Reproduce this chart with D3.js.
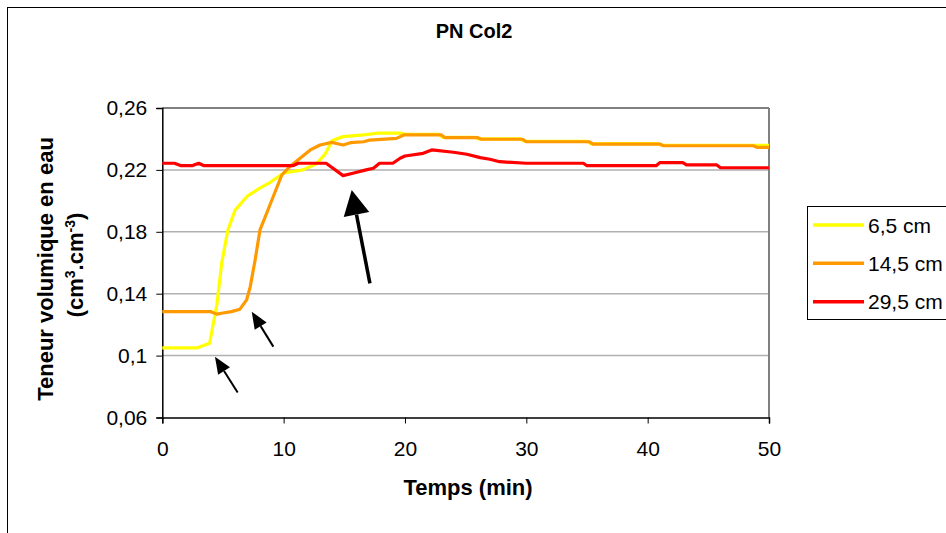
<!DOCTYPE html>
<html>
<head>
<meta charset="utf-8">
<script src="https://cdn.jsdelivr.net/npm/d3@7"></script>
<style>
  html, body { margin: 0; padding: 0; background: #fff; }
  svg { display: block; font-family: "Liberation Sans", Arial, sans-serif; }
</style>
</head>
<body>
<svg id="chart" width="946" height="533"></svg>
<script>
// ---------- data ----------
const title = "PN Col2";
const xTitle = "Temps (min)";
const yTitleLine1 = "Teneur volumique en eau";
const seriesNames = ["6,5 cm", "14,5 cm", "29,5 cm"];
const seriesColors = ["#FFFF00", "#FF9900", "#FF0000"];

const xTicks = [0, 10, 20, 30, 40, 50];
const yTicks = [0.06, 0.10, 0.14, 0.18, 0.22, 0.26];
const yTickLabels = ["0,06", "0,1", "0,14", "0,18", "0,22", "0,26"];

const t1 = [0, 2.9, 3.9, 4.5, 4.9, 5.4, 6.0, 7.0, 8.0, 8.9, 10.0, 11.6, 12.7, 13.4, 14.0, 14.9, 16.6, 17.7, 19.7, 20.0, 22.8, 23.1, 25.8, 26.1, 29.5, 29.8, 35.0, 35.3, 40.8, 41.1, 50];
const v1 = [0.105, 0.105, 0.108, 0.133, 0.160, 0.181, 0.194, 0.203, 0.208, 0.212, 0.218, 0.220, 0.224, 0.230, 0.239, 0.2415, 0.2426, 0.2437, 0.2437, 0.2430, 0.2430, 0.2410, 0.2410, 0.2400, 0.2400, 0.2385, 0.2385, 0.2370, 0.2370, 0.2360, 0.2358];

const t2 = [0, 4.0, 4.5, 5.0, 5.7, 6.4, 6.95, 7.25, 7.65, 8.05, 8.6, 9.3, 9.85, 10.5, 11.35, 12.2, 13.0, 13.95, 14.9, 15.5, 16.6, 17.1, 19.3, 19.9, 23.0, 23.3, 26.0, 26.3, 29.7, 30.0, 35.2, 35.5, 41.0, 41.3, 48.7, 49.0, 50];
const v2 = [0.1284, 0.1284, 0.1268, 0.1275, 0.1284, 0.1300, 0.1360, 0.1446, 0.1618, 0.1812, 0.1920, 0.2059, 0.2167, 0.2221, 0.2275, 0.2329, 0.2361, 0.2378, 0.2361, 0.2376, 0.2382, 0.2393, 0.2404, 0.2426, 0.2426, 0.2408, 0.2408, 0.2398, 0.2398, 0.2382, 0.2382, 0.2367, 0.2367, 0.2356, 0.2356, 0.2346, 0.2346];

const t3 = [0, 1.0, 1.5, 2.5, 3.0, 3.4, 10.8, 11.2, 13.5, 14.9, 15.7, 16.8, 17.4, 17.9, 19.0, 19.6, 20.0, 21.5, 22.2, 24.0, 25.1, 26.2, 27.0, 27.8, 30.0, 34.7, 35.0, 40.7, 41.0, 42.9, 43.2, 45.7, 46.0, 50];
const v3 = [0.2243, 0.2243, 0.2228, 0.2228, 0.2243, 0.2228, 0.2228, 0.2243, 0.2243, 0.2163, 0.2178, 0.2200, 0.2211, 0.2243, 0.2243, 0.2275, 0.2290, 0.2307, 0.2329, 0.2314, 0.2301, 0.2279, 0.2269, 0.2253, 0.2243, 0.2243, 0.2227, 0.2227, 0.2247, 0.2247, 0.2232, 0.2232, 0.2214, 0.2214];

// annotation arrows in data units: [t, v]
const arrowTail = [[6.21, 0.0761], [9.15, 0.1058], [17.11, 0.1467]];
const arrowTip  = [[4.34, 0.0993], [7.37, 0.1284], [15.61, 0.2070]];
const arrowBig  = [false, false, true];

// ---------- layout ----------
const svg = d3.select("#chart");
const L = 162.3, R = 769, T = 108, B = 417.5;
const x = d3.scaleLinear().domain([0, 50]).range([L, R]);
const y = d3.scaleLinear().domain([0.06, 0.26]).range([B, T]);

// outer chart border
svg.append("rect").attr("x", 7.5).attr("y", 7.5).attr("width", 960).attr("height", 560)
  .attr("fill", "#fff").attr("stroke", "#000").attr("stroke-width", 1);

// title
svg.append("text").attr("x", 474).attr("y", 38).attr("text-anchor", "middle")
  .attr("font-size", 20).attr("font-weight", "bold").text(title);

// gridlines
svg.append("g").selectAll("line").data(yTicks.slice(1, -1)).join("line")
  .attr("x1", L).attr("x2", R).attr("y1", d => y(d)).attr("y2", d => y(d))
  .attr("stroke", "#b0b0b0").attr("stroke-width", 1.5);

// top and right border of plot area
svg.append("line").attr("x1", L).attr("x2", R).attr("y1", y(0.26)).attr("y2", y(0.26))
  .attr("stroke", "#808080").attr("stroke-width", 2);
svg.append("line").attr("x1", R).attr("x2", R).attr("y1", T).attr("y2", B)
  .attr("stroke", "#808080").attr("stroke-width", 2);

// axes
const yAxis = d3.axisLeft(y).tickValues(yTicks).tickSize(6).tickPadding(9)
  .tickFormat((d, i) => yTickLabels[i]);
const gy = svg.append("g").attr("transform", `translate(${L},0)`).call(yAxis);
const xAxis = d3.axisBottom(x).tickValues(xTicks).tickSize(6).tickPadding(18).tickFormat(d3.format("d"));
const gx = svg.append("g").attr("transform", `translate(0,${B})`).call(xAxis);
[gx, gy].forEach(g => {
  g.select(".domain").attr("stroke", "#000").attr("stroke-width", 1.5);
  g.selectAll(".tick line").attr("stroke", "#000").attr("stroke-width", 1);
  g.selectAll("text").attr("font-size", 21).attr("fill", "#000")
    .attr("font-family", '"Liberation Sans", Arial, sans-serif');
});

// series
const series = [[t1, v1], [t2, v2], [t3, v3]];
const line = d3.line().x(d => x(d[0])).y(d => y(d[1]));
series.forEach((s, i) => {
  const pts = s[0].map((t, k) => [t, s[1][k]]);
  svg.append("path").datum(pts).attr("d", line).attr("fill", "none")
    .attr("stroke", seriesColors[i]).attr("stroke-width", 3.2)
    .attr("stroke-linejoin", "round");
});

// arrows
arrowTip.forEach((tip, i) => {
  const tx = x(tip[0]), ty = y(tip[1]);
  const sx = x(arrowTail[i][0]), sy = y(arrowTail[i][1]);
  const big = arrowBig[i];
  const hl = big ? 25 : 17, hw = big ? 13 : 7, lw = big ? 3.5 : 2;
  const ang = Math.atan2(ty - sy, tx - sx);
  const bx = tx - hl * Math.cos(ang), by = ty - hl * Math.sin(ang);
  svg.append("line").attr("x1", sx).attr("y1", sy).attr("x2", bx).attr("y2", by)
    .attr("stroke", "#000").attr("stroke-width", lw);
  const px = -Math.sin(ang), py = Math.cos(ang);
  svg.append("polygon")
    .attr("points", [[tx, ty], [bx + hw * px, by + hw * py], [bx - hw * px, by - hw * py]].map(p => p.join(",")).join(" "))
    .attr("fill", "#000");
});

// axis titles
svg.append("text").attr("x", 468).attr("y", 495).attr("text-anchor", "middle")
  .attr("font-size", 22).attr("font-weight", "bold").text(xTitle);

const yt = svg.append("g").attr("font-weight", "bold").attr("font-size", 22);
yt.append("text").attr("transform", "translate(53,269) rotate(-90)")
  .attr("text-anchor", "middle").text(yTitleLine1);
const yt2 = yt.append("text").attr("transform", "translate(83,265) rotate(-90)")
  .attr("text-anchor", "middle");
yt2.append("tspan").text("(cm");
yt2.append("tspan").attr("dy", -8).attr("font-size", 14).text("3");
yt2.append("tspan").attr("dy", 8).text(".cm");
yt2.append("tspan").attr("dy", -8).attr("font-size", 14).text("-3");
yt2.append("tspan").attr("dy", 8).text(")");

// legend
const lg = svg.append("g");
lg.append("rect").attr("x", 807.5).attr("y", 206.5).attr("width", 200).attr("height", 113)
  .attr("fill", "#fff").attr("stroke", "#000").attr("stroke-width", 1);
const legY = [225, 263.3, 301.7];
seriesNames.forEach((n, i) => {
  lg.append("line").attr("x1", 813).attr("x2", 864).attr("y1", legY[i]).attr("y2", legY[i])
    .attr("stroke", seriesColors[i]).attr("stroke-width", 3.5);
  lg.append("text").attr("x", 868).attr("y", legY[i] + 7.5).attr("font-size", 21).text(n);
});
</script>
</body>
</html>
